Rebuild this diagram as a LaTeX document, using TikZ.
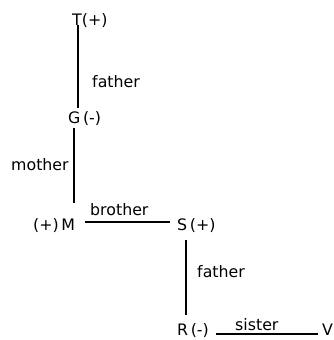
\documentclass[tikz,border=0pt]{standalone}
\usepackage{fontspec}
\setmainfont{DejaVu Sans}
\usetikzlibrary{calc}
\begin{document}
\begin{tikzpicture}[x=1pt,y=-1pt,
  lbl/.style={inner sep=0pt,anchor=base west,font=\fontsize{15.8}{18}\selectfont},
  link/.style={line width=2pt}]
\useasboundingbox (0,0) rectangle (333,340);
\node[lbl] (T) at (72,25) {T(+)};
\node[lbl] (G) at (68,123) {G\,(-)};
\node[lbl] (M) at (33,230) {(+)\,M};
\node[lbl] (S) at (177,230) {S\,(+)};
\node[lbl] (R) at (177,335) {R\,(-)};
\node[lbl] (V) at (322,335) {V};
\node[lbl] (f1) at (92,87) {father};
\node[lbl] (mo) at (11,170) {mother};
\node[lbl] (br) at (90,215) {brother};
\node[lbl] (f2) at (197,277) {father};
\node[lbl] (si) at (235,330) {sister};
% connectors
\draw[link] ($(T.base west)+(6,0)$) -- ($(G.base west)+(10,-15)$);
\draw[link] ($(G.base west)+(6,5)$) -- ($(M.base west)+(41,-27)$);
\draw[link] ($(M.base east)+(10,-8)$) -- ($(S.base west)+(-7,-8)$);
\draw[link] ($(S.base west)+(9,10)$) -- ($(R.base west)+(9,-20)$);
\draw[link] ($(R.base east)+(7,-1)$) -- ($(V.base west)+(-4,-1)$);
\end{tikzpicture}
\end{document}
